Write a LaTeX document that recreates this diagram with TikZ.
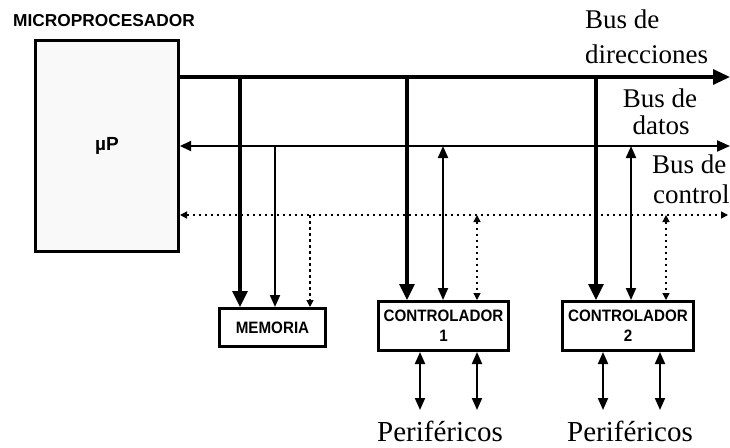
\documentclass[tikz,border=0pt]{standalone}
\usepackage{fontspec}
\setmainfont{Liberation Serif}
\setsansfont{Liberation Sans}
\newfontfamily\boxfont{Liberation Sans}[FakeStretch=0.92]
\usetikzlibrary{arrows.meta}
\tikzset{
  box/.style={draw,line width=3pt,inner sep=0pt,fill=white,
    font=\boxfont\bfseries\fontsize{16.5}{20}\selectfont,align=center},
  addr/.style={line width=3.2pt},
  data/.style={line width=2pt},
  ctrl/.style={line width=1.4pt,dash pattern=on 2.5pt off 3.5pt},
  bigtip/.tip={Triangle[length=16pt,width=15pt]},
  midtip/.tip={Triangle[length=12pt,width=10pt]},
  smalltip/.tip={Triangle[length=7pt,width=7pt]},
  buslabel/.style={anchor=base west,inner sep=0pt,font=\fontsize{27}{30}\selectfont},
  perif/.style={anchor=base,inner sep=0pt,text depth=0pt,font=\fontsize{29}{32}\selectfont}
}
\begin{document}
\begin{tikzpicture}[x=1pt,y=-1pt]
\useasboundingbox (0,0) rectangle (730,447);
% title
\node[anchor=base west,inner sep=0pt,font=\sffamily\bfseries\fontsize{17.3}{20}\selectfont] (title) at (13,26) {MICROPROCESADOR};
% boxes
\node[box,fill=gray!5,minimum width=143pt,minimum height=211pt,font=\sffamily\bfseries\fontsize{19}{22}\selectfont] (mp) at (107,146) {µP};
\node[box,minimum width=106pt,minimum height=38pt] (mem) at (272.5,327.5) {MEMORIA};
\node[box,minimum width=130pt,minimum height=49pt] (c1) at (443.5,326) {CONTROLADOR\\1};
\node[box,minimum width=131pt,minimum height=49pt] (c2) at (628,326) {CONTROLADOR\\2};
% bus end points
\coordinate (aR) at (730,77);
\coordinate (dR) at (730,146);
\coordinate (cR) at (728,215);
% buses
\draw[addr,-{Triangle[length=17pt,width=15pt]}] (mp.east |- aR) -- (aR);
\draw[data,{Triangle[length=11pt,width=10pt]}-{Triangle[length=13pt,width=11pt]}] (mp.east |- dR) -- (dR);
\draw[ctrl,smalltip-smalltip] (mp.east |- cR) -- (cR);
% taps on the buses
\coordinate (am) at (240,77);  \coordinate (dm) at (275,146); \coordinate (cm) at (310,215);
\coordinate (a1) at (407,77);  \coordinate (d1) at (443,146); \coordinate (k1) at (477,215);
\coordinate (a2) at (596,77);  \coordinate (d2) at (631,146); \coordinate (k2) at (666,215);
\draw[addr,-bigtip] (am) -- (am |- mem.north);
\draw[data,-midtip] (dm) -- (dm |- mem.north);
\draw[ctrl,-smalltip] (cm) -- (cm |- mem.north);
\draw[addr,-bigtip] (a1) -- (a1 |- c1.north);
\draw[data,midtip-midtip] (d1) -- (d1 |- c1.north);
\draw[ctrl,smalltip-smalltip] (k1) -- (k1 |- c1.north);
\draw[addr,-bigtip] (a2) -- (a2 |- c2.north);
\draw[data,midtip-midtip] (d2) -- (d2 |- c2.north);
\draw[ctrl,smalltip-smalltip] (k2) -- (k2 |- c2.north);
% peripherals
\coordinate (p1a) at (420,410); \coordinate (p1b) at (477,410);
\coordinate (p2a) at (603,410); \coordinate (p2b) at (660,410);
\draw[data,midtip-midtip] (p1a |- c1.south) -- (p1a);
\draw[data,midtip-midtip] (p1b |- c1.south) -- (p1b);
\draw[data,midtip-midtip] (p2a |- c2.south) -- (p2a);
\draw[data,midtip-midtip] (p2b |- c2.south) -- (p2b);
\node[perif] (per1) at (440,441) {Periféricos};
\node[perif] (per2) at (630,441) {Periféricos};
% bus labels
\node[buslabel] (lA1) at (585,28) {Bus de};
\node[buslabel] (lA2) at (585,63) {direcciones};
\node[buslabel,anchor=base] (lD1) at (660,107) {Bus de};
\node[buslabel,anchor=base] (lD2) at (661,134) {datos};
\node[buslabel] (lC1) at (652,173) {Bus de};
\node[buslabel] (lC2) at (653,203) {control};
\end{tikzpicture}
\end{document}
